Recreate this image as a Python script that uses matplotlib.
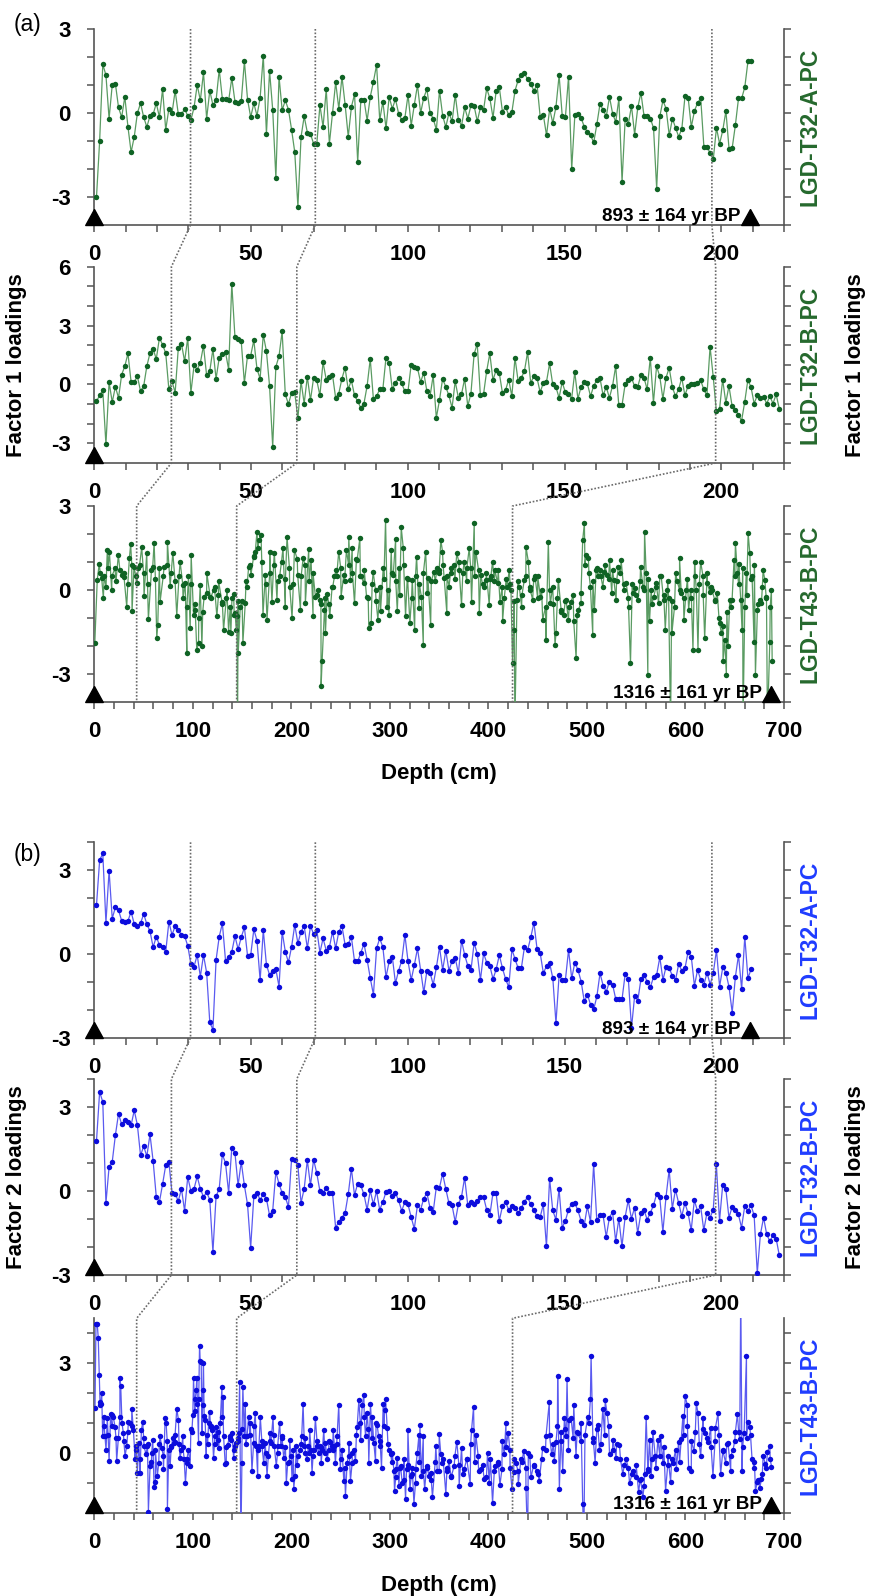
import numpy as np
import matplotlib
matplotlib.use("Agg")
import matplotlib.pyplot as plt
from matplotlib.lines import Line2D

plt.rcParams['font.family'] = ['Liberation Sans', 'DejaVu Sans']
plt.rcParams['font.weight'] = 'bold'
plt.rcParams['xtick.major.pad'] = 9
plt.rcParams['xtick.minor.pad'] = 9
plt.rcParams['ytick.major.pad'] = 12
plt.rcParams['ytick.minor.pad'] = 12
plt.rcParams['xtick.direction'] = 'out'
plt.rcParams['ytick.direction'] = 'out'

# ---- data: factor loadings vs depth (cm) ----
# LGD-T32-A-PC, factor 1 (regular ~1 cm sampling, 0.7-209.5 cm)
t32a_f1 = [-3.0, -1.0, 1.74, 1.35, -0.2, 1.0, 1.05, 0.2, -0.15, 0.58, -0.5, -1.4, -0.85, 0.0, 0.35,
           -0.15, -0.5, -0.1, -0.05, 0.35, -0.15, 0.85, -0.6, 0.15, 0.0, 0.8, -0.05, -0.05, 0.15, -0.1,
           -0.25, 0.2, 1.0, 0.45, 1.45, -0.2, 0.8, 0.28, 0.45, 1.55, 0.5, 0.5, 0.45, 1.25, 0.4, 0.35,
           0.42, 1.85, 0.48, -0.15, 0.35, -0.1, 0.55, 2.05, -0.75, 1.5, 0.1, -2.33, 1.3, 0.1, 0.45, 0.12,
           -0.6, -1.4, -3.35, -0.85, -0.12, -0.7, -0.75, -1.1, -1.1, 0.28, -0.5, 0.85, -1.1, 0.0, 1.1,
           0.15, 1.3, 0.3, -0.85, 0.22, 0.67, -1.75, 0.48, 0.48, -0.27, 0.58, 1.12, 1.72, -0.25, 0.4,
           -0.55, 0.58, 0.15, 0.5, -0.02, -0.25, -0.17, 0.65, -0.45, 0.3, 1.0, 0.0, 0.55, 0.85, 0.0,
           -0.2, -0.6, 0.8, -0.1, -0.5, 0.0, -0.3, 0.65, -0.25, -0.45, 0.2, -0.2, 0.28, 0.25, -0.3, 0.2,
           0.12, 0.88, 0.52, -0.17, 0.8, 0.92, 0.04, 0.22, -0.08, 0.04, 0.8, 1.18, 1.35, 1.42, 1.2, 1.03,
           0.8, 1.0, -0.15, -0.08, -0.8, 0.15, -0.36, 0.22, 1.35, -0.12, -0.15, 1.3, -2.0, -0.08, -0.02,
           -0.17, -0.5, -0.68, -0.8, -1.05, -0.4, 0.33, 0.1, -0.12, 0.58, -0.02, -0.32, 0.52, -2.45,
           -0.2, -0.38, 0.25, -0.77, 0.2, 0.72, -0.12, -0.12, -0.2, -0.53, -2.7, -0.12, 0.45, 0.15,
           -0.8, -0.2, -0.53, -0.85, -0.56, 0.6, 0.55, -0.5, 0.07, 0.36, 0.52, -1.2, -1.2, -1.44, -1.64,
           -0.53, -1.1, -0.62, 0.07, -1.28, -1.25, -0.44, 0.52, 0.52, 0.92, 1.84, 1.84]

# LGD-T32-B-PC, factor 1 (0.7-218.5 cm)
t32b_f1 = [-0.85, -0.56, -0.3, -3.05, 0.12, -0.9, -0.12, -0.68, 0.5, 0.93, 1.58, 0.12, 0.12, 0.42,
           -0.34, -0.08, 0.93, 1.6, 1.8, 1.3, 2.37, 2.03, 1.6, -0.25, 0.17, -0.42, 1.86, 2.08, 1.18,
           2.37, -0.42, 0.97, 0.76, 1.1, 1.98, 0.46, 0.68, 1.8, 0.29, 1.36, 1.53, 1.64, 0.76, 5.13, 2.42,
           2.32, 2.2, 0.08, 1.47, 1.47, 2.25, 0.8, 0.29, 2.54, 1.7, -0.08, -3.17, 0.9, 1.44, 2.7, -0.5,
           -1.0, -0.42, -0.4, -1.73, 0.17, -0.97, 0.39, -0.8, 0.34, 0.22, -0.56, 1.14, 0.25, 0.39, 0.49,
           -0.68, -0.46, 0.3, 0.85, -0.25, 0.22, -0.56, -0.85, -1.19, -0.97, -0.08, 1.3, -0.73, -0.6,
           -0.25, -0.25, 1.36, 1.1, -0.25, 0.08, 0.34, 0.05, -0.34, -0.34, 1.0, 0.9, 0.85, 0.12, 0.6,
           -0.34, -0.6, 0.46, -1.7, -0.8,
           0.29, -0.12, -0.56, -1.19, 0.17, -0.68, -0.5, 0.29, -1.1, -0.46, 1.53, 2.08, -0.56, -0.5,
           0.68, 1.58, 0.22, 0.73, 0.6, -0.42, -0.29, 0.25, -0.6, 1.36, 0.17, 0.34, 0.68, 1.64, 0.08,
           0.42, 0.34, -0.4, 0.08, 0.12, 1.07, 0.0, -0.12, -0.68, 0.12, -0.4, -0.5, -0.73, 0.63, -0.73,
           -0.12, 0.12, 0.05, -0.6, -0.08, 0.22, 0.34, -0.56, -0.12, -0.68, -0.08, 0.93, -1.07, -1.07,
           0.0, 0.25, 0.34, -0.08, -0.12, 0.46, 0.34, -0.25, 1.36, -0.93, 0.93, 0.42, -0.73, 0.34, 0.85,
           -0.12, -0.6, -0.25, 0.34, -0.56, -0.08, 0.0, 0.0, 0.08, 0.22, -0.25, -0.56, 1.92, 0.39, -1.36,
           -1.27, 0.25, -0.93, -0.08, -1.1, -1.3, -1.53, -1.86, -0.9, 0.22, -0.12, -0.97, -0.56, -0.68,
           -0.63, -0.97, -0.6, -0.97, -0.5, -1.24]

# LGD-T43-B-PC, factor 1 (depth, value) - prominent points
t43b_f1 = [(0.5, -1.9), (3, 0.36), (5, 0.93), (7.5, 0.42), (9.2, -0.3), (11.9, 0.12), (13.2, 1.43),
           (15.3, 1.37), (17.6, 0), (21, 0.77), (24.4, 1.25), (27.8, 0.54), (30.2, 0.45), (32.9, -0.6),
           (35.6, 1.13), (36.9, 1.64), (38.3, -0.77), (40.3, 0.83), (43, 0.24), (44.7, 0.77), (48.1, 1.52),
           (50.5, -0.21), (53.2, 1.31), (54.9, -1.05), (59.3, 0.83), (60.7, 1.69), (63.4, -1.73),
           (64.4, -1.25), (66.8, -0.42), (70.8, 0.83), (74.2, 1.73), (77, 0.14), (79.7, 1.33),
           (83.7, -0.93), (87.1, 1.01), (89.8, 0.18), (92.2, 0.24), (93.9, -2.26), (95.6, 0.48),
           (97.3, -1.37), (98.3, 1.25), (100.7, -0.89), (102.4, -0.71), (104, -2.14), (105.8, -1.9),
           (107.5, 0.18), (109.2, -2.02), (111.5, -0.24), (114.2, 0.6), (117.6, -0.24), (121, 0),
           (124.4, -0.95), (126.1, 0.33), (129.5, -0.42), (131.2, -1.43), (134.6, 0), (136.3, -1.49),
           (138.6, -1.55), (139.7, -0.3), (141.4, -0.14), (142.9, -0.83), (144.1, -1.43), (144.7, -0.95),
           (145.4, -4.8), (146.1, -2.26), (148.1, -0.6), (150.8, -1.9), (153.2, -0.48), (155, 0.12),
           (156.6, 0.81), (159, 0.54), (161.7, 1.19), (163.4, 1.37), (165.1, 2.08), (166.8, 1.79),
           (169.2, 1.96), (171.2, -0.89), (173.6, 0.54), (175.3, -1.07), (178, 1.37), (180.3, -0.42),
           (182.7, 1.33), (185.4, -0.36), (188.1, 0.48), (191.5, 1.49), (193.9, -0.6), (195.6, 1.9),
           (198.3, 0.12), (200.7, -1.01), (203.1, 1.43), (206.4, 0.54), (209.2, -0.71), (211.9, 1.13),
           (214.2, -0.48), (217.6, 1.45), (220, 1.07), (222, -0.93), (224.4, -0.24), (226.8, 0),
           (228.8, -0.36), (230.2, -3.43), (231.2, -2.56), (233.6, -0.71), (234.6, -1.55), (236.3, -0.14),
           (239, -0.95), (241.4, 0.12), (243.7, 0.48), (245.8, 0.71), (248.1, 1.37), (250.5, -0.24),
           (253.2, 0.54), (255.9, 1.43), (258.3, 1.9), (260, 0.36), (261.7, 1.49), (264.1, -0.48),
           (266.8, 1.07), (269.5, 1.85), (270.8, 0.48), (273.6, 0.24), (276.3, -0.24), (278.6, -1.37),
           (281, -1.19), (283, 0.65), (285.4, 0), (287.8, -1.07), (290.5, -0.77), (293.2, 0.77),
           (295.6, 2.5), (297.3, -0.6), (299, -0.89), (301.4, 1.43), (303.4, 0.54), (305.8, 1.81),
           (307.5, -0.77), (309.2, 0.77), (311.5, 2.24), (313.6, 1.49), (315.9, -0.95), (317.6, 0.42),
           (320.3, -1.19), (322.7, 0.36), (325.1, -1.43), (327.1, 1.19), (329.5, -0.65), (331.9, -0.24),
           (333.9, -1.96), (336.3, 1.37), (338.6, 0.42), (341.4, -1.25), (344.7, 0.65), (348.1, 0.77),
           (350, 0.71), (351.7, 1.79), (353.4, 1.37), (355.1, 0.42), (357.8, -0.83), (360.1, 0.12),
           (362.5, 0.6), (365.2, 0.89), (367.9, 1.31), (370.3, 0.71), (372.7, -0.54), (375.4, 1.01),
           (378.1, 0.77), (380.5, 1.49), (382.9, -0.42), (385.6, 2.4), (387.3, 1.37), (390.7, -0.81),
           (392.3, 0.54), (395.1, 0.12), (397.4, 0.36), (400.8, -0.54), (402.5, 0.48), (404.2, 1.01),
           (406.6, 0.71), (409.3, 0.24), (411.7, -0.42), (414.4, -1.13), (416.1, -0.3), (418.8, 0.12),
           (421.2, 0.71), (422.9, 0), (424.5, -2.62), (425.6, -1.43), (426.9, -4.8), (429, -0.36),
           (431.3, 0.12), (433.7, -0.6), (436.4, 0.36), (438.1, 1.55), (440.5, 1.01), (442.5, 0),
           (444.9, -0.36), (447.3, 0.48), (450, 0.5), (452.7, -0.24), (455.1, -1.07), (458.4, -1.79),
           (460.8, 1.73), (462.9, -0.48), (465.2, 0.12), (467.6, -1.96), (468.6, -1.55), (471, 0.36),
           (473.7, -0.71), (476.4, -0.89), (478.8, -0.36), (481.2, -1.07), (483.9, -0.42), (486.6, -1.13),
           (489, -2.44), (491.3, -0.71), (494, -0.48), (495.7, 1.79), (497.4, 2.38), (499.1, 1.25),
           (501.5, 1.13), (503.5, 0.12), (505.9, -1.61), (507.6, -0.71), (509.3, 0.71), (511, 0.48),
           (513.7, 0.71), (516.1, 0.12), (517.8, 0.65), (520.5, 0.54), (522.9, 1.07), (525.2, -0.12),
           (527.3, 0.36), (529.6, -0.36), (532, 0.83), (534.7, 1.07), (537.4, 0), (539.8, 0.24),
           (542.2, -0.6), (544.2, -2.62), (546.6, -0.12), (549, 0.06), (551.7, -0.36), (554.4, 0.83),
           (556.8, 0.12), (558.5, 2.08), (560.1, 0.6), (561.8, -3.04), (563.5, -1.13), (565.2, 0),
           (567.9, -0.24), (570.3, 0.24), (572.7, -0.48), (575.4, 0.48), (577.8, -0.36), (579.5, -1.43),
           (581.5, 0), (582.9, -0.3), (584.9, -4.8), (586.2, -1.55), (588.9, -0.6), (591.7, 0.3),
           (594, 1.13), (595.7, -0.12), (598.4, -1.07), (600.8, 0), (603.2, -0.71), (605.2, 0),
           (607.6, -2.14), (609.3, 1.01), (611, 0), (612.7, -2.14), (615.4, 1.01), (617.8, 0.48),
           (619.5, -1.73), (622.2, 0.24), (624.5, -0.06), (626.9, 0), (629.6, -0.36), (632.3, -0.12),
           (634.7, -1.19), (636.4, -1.55), (638.1, -2.56), (639.8, -1.79), (641.5, -3.04), (643.2, -2.02),
           (644.9, -0.36), (647.3, -0.36), (649.3, 1.07), (650.7, 1.67), (652.7, 0.6), (654, 0.93),
           (656.1, -0.36), (657.4, -1.43), (658.4, -4.8), (660.2, -0.6), (661.9, 0.6), (663.6, 2.02),
           (665.3, 1.31), (667.6, 0.48), (669.6, -1.88), (671, -3.04), (673, -0.71), (675.4, -0.36),
           (677.1, -0.48), (678.8, 0.71), (680.5, 0.36), (682.2, -0.24), (683.2, -4.8), (685.6, -1.85),
           (687.2, 0), (688, -2.56)]
# LGD-T43-B-PC, factor 1 - remaining dense-cloud points, every 4 cm from 6 cm
t43b_f1_cloud = [0.6, 0.5, 0.8, 0.5, 0.3, 0.7, 0.6, 0.2, 0.9,
                 0.5, 0.9, 0.6, 0.2, 0.7, 0.4, 0.8, 0.5, 0.9, 0.6, 0.3, 0.5,
                 -0.3, -0.6, 0.2, -0.5, -1.0,
                 -0.8, -0.1, -0.3, 0.1, -0.2, -0.5, -0.3, -0.6, -0.9, -0.4,
                 -0.4, 0.3, 0.9, 1.2, 1.5, 1.0, 0.2,
                 0.6, 0.9, 0.3, 1.0, 0.4, 0.8, 0.2, 1.1, 0.5, 0.9, 0.3, 0.6, -0.2,
                 -0.5, -0.3, -0.5, 0.1,
                 0.5, 0.8, 0.3, 0.9, 0.6, 1.1, 0.5, 0.7,
                 -0.3, 0.2, -0.4, 0.1, 0.4, 0.0,
                 0.6, 0.3, -0.2, 0.9, 0.4, -0.3, 0.5, 0.2, 0.6, -0.1, 0.3,
                 0.3, 0.6, 0.9, 0.5, 0.8, 0.4, 1.0, 0.6, 0.3, 0.8, 0.5, 0.7, 0.2, 0.6, 0.4, 0.3, 0.7, 0.1, 0.4,
                 0.2, -0.4, 0.3, -0.2, 0.5, 0.1, 0.4, -0.3, 0.0, -0.6,
                 0.0, -0.5, -0.3, -0.8, -0.4, -0.6, -0.2, -0.9, -0.1,
                 0.9, 0.6, 0.3, 0.8, 0.5, 0.9, 0.4, 0.7, 0.3, 0.6, 0.2,
                 -0.3, 0.2, -0.2, 0.3, 0.0, 0.4, -0.5, 0.1, 0.5, -0.2, 0.3, -0.4, 0.6, 0.0, -0.3,
                 0.4, -0.3, 0.5, 0.2, -0.2, 0.6, 0.1, -0.4,
                 -1.0, -1.3, -0.8, -0.6,
                 0.5, 0.2, 0.8, -0.2, 0.4, 0.9, -0.5, 0.1, -0.3, -0.6]

# LGD-T32-A-PC, factor 2 (0.7-209.5 cm)
t32a_f2 = [1.75, 3.36, 3.6, 1.12, 2.98, 1.27, 1.67, 1.57, 1.19, 1.15, 1.19, 1.51, 1.07, 1.0, 1.1, 1.43,
           1.07, 0.82, 0.24, 0.62, 0.32, 0.26, 0.08, 1.15, 0.68, 1.0, 0.86, 0.68, 0.64, 0.29, -0.36,
           -0.45, -0.04, -0.81, -0.04, -0.67, -2.45, -2.71, -0.21, 0.62, 1.1, -0.24, -0.12, 0.08, 0.64,
           0.17, 0.6, 0.95, -0.07, -0.04, 0.88, 0.48, -0.95, 0.86, -0.39, -0.75, -0.6, -0.55, -1.17, 0.8,
           0.08, -0.3, 0.26, 1.04, 0.38, 0.8, 1.0, 0.2, 1.0, 0.71, 0.86, 0.05, 0.56, 0.12, 0.24, 0.8, 0.2,
           0.8, 1.0, 0.32, 0.36, 0.6, -0.27, -0.27, 0.05, 0.36, -0.21, -0.87, -1.46, 0.2, 0.56, 0.24,
           -0.83, -0.27, -0.1, -1.05, -0.6, -0.24, 0.68, -0.27, -0.93, -0.4, 0.2, -0.6, -1.38, -0.6,
           -0.67,
           -1.1, -0.48, 0.24, -0.57, 0.12, -0.6, -0.24, -0.15, -0.69, 0.48, -0.04, -0.43, -0.57, 0.4, 0.0,
           -0.93, 0.02, -0.31, -0.43, -0.9, -0.55, -0.04, -0.51, -0.9, -1.19, 0.17, -0.19, -0.51, -0.51,
           0.26, 0.14, 0.6, 1.12, 0.17, 0.02, -0.69, -0.43, -0.33, -0.87, -2.48, -0.75, -0.95, -0.93,
           0.14, -0.87, -0.31, -0.57, -0.99, -1.7, -1.46, -1.82, -1.98, -1.52, -0.69, -1.14, -1.35,
           -0.99, -1.1, -1.62, -1.62, -1.62, -0.71, -0.9, -2.65, -1.5, -1.67, -0.9, -0.75, -0.99, -1.19,
           -0.83, -0.75, -0.12, -0.93, -0.45, -0.51, -0.79, -0.93, -0.36, -0.6, -0.51, 0.08, -0.1, -1.14,
           -0.57, -0.93, -1.1, -0.67, -1.1, -0.67, 0.14, -1.17, -0.48, -0.67, -1.19, -2.1, -0.83, -0.04,
           -1.26, 0.62, -0.87, -0.55]

# LGD-T32-B-PC, factor 2 (0.7-218.5 cm)
t32b_f2 = [1.79, 3.54, 3.18, -0.43, 0.86, 1.04, 1.99, 2.76, 2.38, 2.52, 2.46, 2.35, 2.88, 2.35, 1.27,
           1.6, 1.24, 2.02, 1.07, -0.21, -0.39, 0.24, 0.92, 1.04, -0.07, -0.1, -0.36, 0.08, -0.71, 0.5,
           0.0, 0.08, 0.52, 0.08, -0.21, -0.04, -0.31, -2.18, -0.19, 0.08, 1.31, 1.0, -0.07, 1.55, 1.36,
           0.2, 1.04, 0.2, -0.48, -2.02, -0.19, -0.07, -0.31, -0.12, -0.27, -0.87, -0.71, 0.68, 0.26,
           -0.07, -0.21, -0.57, 1.15, 1.12, 0.92, -0.43, 0.08, 1.1, 0.2, 1.12, 0.64, 0.0, -0.07, 0.12,
           -0.07, -0.07, -1.31, -1.1, -0.95, -0.79, -0.12, 0.8, -0.15, 0.26, 0.2, -0.12, -0.67, 0.02,
           -0.48, 0.0, -0.67, -0.39, -0.04, 0.0, -0.19, -0.07, -0.33, -0.71, -0.39, -0.48, -0.93, -1.35,
           -0.51, -0.67, -0.27, -0.07, -0.6,
           -0.75, 0.14, 0.12, 0.62, 0.08, -0.43, -0.51, -1.1, -0.48, -0.21, 0.48, -0.51, -0.39, -0.45,
           -0.36, -0.21, -0.21, -0.67, -0.87, -0.07, -0.07, -1.07, -0.55, -0.39, -0.67, -0.55, -0.6,
           -0.79, -0.6, -0.39, -0.21, -0.48, -0.69, -0.9, -0.93, -0.48, -1.98, 0.44, -0.69, -1.02, 0.08,
           -1.31, -1.07, -0.67, -0.45, -0.43, -0.69, -1.07, -1.23, -0.55, -1.1, 0.95, -1.05, -0.87,
           -0.87, -1.64, -0.95, -0.75, -1.79, -0.99, -1.98, -0.93, -0.33, -0.99, -0.6, -1.5, -0.79,
           -0.67, -1.02, -0.79, -0.51, -0.12, -0.21, -1.46, -0.21, 0.76, -0.63, 0.05, -0.43, -0.9, -0.43,
           -0.79, -1.4, -0.33, -0.71, -0.55, -1.4, -0.79, -0.95, -0.67, 0.95, -1.07, 0.2, 0.08, -0.95,
           -0.57, -0.67, -0.83, -1.31, -0.55, -0.71, -0.51, -0.87, -2.93, -1.55, -0.95, -1.55, -1.79,
           -1.58, -1.7, -2.3]

# LGD-T43-B-PC, factor 2 (depth, value) - prominent points
t43b_f2 = [(0.7, 1.5), (1.7, 4.3), (3, 4.3), (4, 3.85), (5, 2.6), (5.8, 1.7), (6.8, 1.65), (7.5, 2.0),
           (8.5, 0.55), (9.8, 1.2), (10.8, 0.55), (11.9, 0.1), (13.2, 1.15), (15, -0.27), (16.6, 1.3),
           (18, 1.26), (19.3, 1.2), (21, 0.88), (22.7, -0.27), (24.4, 0.5), (26, 2.5), (26.8, 2.25),
           (28.1, 1.0), (29.5, 0.66), (31.2, -0.1), (32.9, 0.22), (34.6, 1.04), (36.3, 1.0), (38, 1.48),
           (39.7, 0.77), (41.4, -0.22), (42.4, 0.22), (43.7, -0.66), (45.1, 0.33), (46.4, -0.66),
           (47.8, 0.77), (49.2, 1.04), (50.5, 0.22), (52.5, -0.05), (53.9, 0.22), (54.9, -1.96),
           (56.6, -0.44), (58.3, 0), (59.3, 0.44), (60.7, -1.15), (62, -0.99), (64, -0.77), (65.4, -0.33),
           (66.8, 0.55), (68.5, 0.16), (70.2, -0.55), (71.9, 1.15), (72.9, 0.99), (74.2, -1.87),
           (75.6, 0.1), (77, -0.44), (78.3, 0.22), (79.7, 0.5), (81, 0.33), (82, 0.38), (83.7, 1.48),
           (85.4, 1.1), (87.1, -0.16), (88.5, 0.1), (89.8, 0.55), (91.2, -0.22), (92.5, -1.0),
           (93.9, -0.33), (95.6, 0.1), (97.3, -0.44), (99, 0.7), (100, 1.26), (100.7, 2.5), (102.4, 1.8),
           (103.4, 2.09), (104, 2.5), (104.7, 1.65), (105.8, 0.33), (106.8, 3.57), (107.5, 3.08),
           (108.5, 3.05), (109.2, 0.66), (110.2, 2.09), (110.8, 3.0), (111.5, 1.23), (112.5, 1.1),
           (113.6, -0.1), (115, 0.3), (116, 0.99), (117, 1.37), (118.3, 0.88), (119.7, 0.77),
           (121, -0.16), (122.4, 0.55), (123.7, 0.88), (125.1, 0.44), (126.1, 0.16), (127.8, 1.0),
           (129.5, 2.2), (130.5, 1.87), (131.2, 0.55), (132.9, -0.38), (133.9, -0.33), (135.3, 0.27),
           (137.3, 0.55), (138.6, 0.44), (139.7, 0.66), (141.4, -0.16), (143, 0.22), (144.1, 0.33),
           (145.4, 0.5), (146.4, 0.66), (147.5, 2.36), (148.8, -3.0), (149.8, -0.33), (150.8, 2.2),
           (152.2, 0.55), (153.2, 1.65), (155, 0.55), (156.6, 1.2), (158.3, 1.0), (160, -0.6),
           (161.7, 0.33), (163.4, 1.32), (164.4, 0.22), (165.8, -0.77), (167.1, 0.22), (168.5, 1.2),
           (170.2, 0.22), (171.9, -0.33), (173.6, 0.33), (175.3, -0.77), (176.6, -0.11), (178, 0.66),
           (179.3, 0.33), (181.4, 1.2), (182.7, 0.22), (184.7, -0.44), (186.1, 0.22), (188.1, 1.0),
           (189.5, 0.22), (190.5, 0.55), (192.2, -0.16), (194.9, -1.0), (196.3, -0.33), (198.3, 0.44),
           (199.7, -0.11), (200.7, -0.88), (202.4, -1.2), (203.7, -0.77), (205.1, 0.22), (206.8, -0.11),
           (209.2, 0.1), (210.5, 0.55), (211.9, 1.65), (213.2, 0.22), (214.2, 0), (215.9, -0.22),
           (217.3, 0.22), (218.6, 0.77), (220, 0.1), (221, -0.66), (222.7, 0.1), (224.4, 1.15),
           (226.1, 0.22), (227.8, 0), (228.8, 0.22), (230.2, -0.33), (231.5, 0.1), (232.9, 0.77),
           (234.6, 0.33), (236.3, -0.22), (238, 0.1), (239.7, 0.38), (241, 0.22), (242.4, 0.77),
           (243.7, 0.22), (244.7, -0.33), (246.4, 0.55), (248.1, 1.6), (249.8, -0.55), (251.5, 0.1),
           (253.2, -0.93), (254.9, -1.43), (256.6, -0.33), (258.3, 0.33), (260, -0.93), (261.7, -0.33),
           (263.4, 0.1), (265.1, -0.27), (266.8, 0.88), (268.5, 1.76), (270.2, 0.44), (271.9, 1.6),
           (273.6, 1.92), (275.3, 0.55), (277, 1.32), (278.6, -0.33), (280.3, 1.65), (282, 1.2),
           (283.7, 0.33), (285.4, -0.27), (287.1, 0.93), (288.5, 0.55), (289.8, 0.22), (291.5, -0.5),
           (293.2, 1.65), (294.6, 1.43), (295.6, 1.81), (297.3, 0.82), (299, 0.1), (300.7, -0.05),
           (302.4, 0), (304.1, -0.6), (304.7, -1.26), (306.1, -0.55), (307.5, -0.16), (309.2, -1.1),
           (310.8, -0.44), (312.5, -1.0), (314.2, -0.22), (315.9, -1.54), (316.9, -0.55), (318.3, 0.77),
           (320.3, -1.2), (321.7, -0.77), (322.7, -0.5), (324.4, -1.7), (326.1, -0.55), (327.8, 0),
           (329.5, 0.6), (330.5, 0.93), (331.9, -0.77), (333.9, 0.55), (335.3, -1.2), (337.3, -0.44),
           (339.7, -0.77), (341.5, -0.66), (343.2, -1.48), (346.6, 0.22), (348.1, -0.6), (350, 0.64),
           (351.7, -0.05), (353.4, -0.33), (356.8, -1.37), (358.4, -0.6), (360.1, -0.27), (362.5, -0.77),
           (365.2, -0.44), (367.9, 0.38), (370.3, -1.1), (372.7, 0.16), (375.4, -0.55), (378.1, -0.22),
           (381.5, -1.04), (382.9, 0.77), (384.9, 1.52), (387.3, 0.6), (389.6, -0.11), (392.3, -0.55),
           (395.7, -0.88), (399.1, 0), (400.8, -1.0), (404.2, -1.67), (406.9, -0.44), (409.3, -0.38),
           (411.7, -1.08), (413.7, -0.55), (416.1, -0.05), (417.8, 1.0), (420.1, 0.68), (421.8, 0.1),
           (423.9, -1.2), (425.6, -0.64), (427.9, -0.33), (430.3, -1.04), (433, -0.22), (435.7, 0.05),
           (438.1, -1.18), (439.8, -3.0), (440.5, 0), (443.2, -0.82), (446.6, -0.44), (449.3, -0.6),
           (451.7, -0.93), (455.1, 0.16), (458.4, 0.55), (461.8, 1.7), (464.2, -0.05), (466.9, -0.27),
           (468.6, 0.38), (470.3, 2.58), (472, -1.2), (473.7, 0.71), (475.4, -0.6), (477.1, 1.15),
           (478.8, 0.55), (479.8, 2.47), (481.2, 0.1), (483.9, 1.15), (486.6, 1.6), (488.9, -0.1),
           (490.7, 0.66), (494, 1.0), (495.7, -1.7), (496.8, -3.0), (500.8, 1.2), (503.5, 1.81),
           (504.2, 3.24), (506.6, 0.38), (508.3, -0.33), (511, 0.93), (512.7, 0.1), (516.1, 1.48),
           (518.5, 1.76), (520.5, 1.32), (522.9, -0.05), (526.2, 0.44), (529.6, -0.16), (533, 0.27),
           (536.4, -0.71), (539.8, -0.22), (543.2, -1.0), (546.6, -0.6), (550, -0.82), (552.4, -1.32),
           (554.4, -0.88), (556.8, -1.48), (558.5, -0.71), (560.1, 1.2), (561.8, -0.55), (563.5, 0.44),
           (565.2, -0.77), (566.9, 0.71), (569.3, -0.11), (572, 0.44), (574.7, 0.57), (577.1, -0.33),
           (579.8, -1.26), (582.2, -0.11), (584.9, -0.97), (587.3, -0.33), (590.7, -0.55), (593.1, 0.38),
           (595.7, 0.46), (597.4, 1.23), (599.8, 1.89), (601.8, 1.6), (603.2, -0.5), (605.9, -0.6),
           (608.6, 0.05), (611, 1.67), (612.7, 1.32), (615.4, -0.11), (617.8, 1.15), (620.1, 0.66),
           (622.9, 0.38), (625.6, 0.82), (627.9, -0.77), (630.3, 0.82), (633, 1.32), (635.7, -0.71),
           (638.1, 0.05), (640.8, -0.33), (643.2, 0.33), (645.9, -0.6), (648.3, 0.1), (650.7, 0.71),
           (652.7, 1.3), (655.1, 0.46), (656.1, 5.5), (657.4, -0.6), (659.5, 0.66), (661.9, 3.24),
           (663.6, 1.04), (665.3, 0.88), (667.6, -0.22), (669.6, -0.5), (671, -1.26), (673, -0.97),
           (675.4, -1.19), (677.1, -0.88), (678.8, -0.11), (681.2, -0.38), (683.2, 0.02), (685.6, 0.24),
           (687.3, -0.46)]
# LGD-T43-B-PC, factor 2 - remaining dense-cloud points, every 4 cm from 6 cm
t43b_f2_cloud = [1.6, 0.9, 0.6, 0.9, 0.5, 1.2, 0.4, 0.7, 0.9,
                 0.1, -0.2, 0.5, 0.3, -0.3, 0.1, 0.3, -0.1, 0.4, 0.2, 0.6, 0.3,
                 0.2, -0.2, 0.8, 1.4, 1.8,
                 1.6, 0.6, 0.9, 0.3, 0.7, 1.2, 0.2, 0.5, 0.1, 0.4,
                 0.8, 0.3, 0.6, 0.9, 0.1, 0.4, 0.0,
                 0.4, 0.6, 0.0, 0.5, 0.2, -0.3, 0.1, -0.4, 0.3, 0.5, 0.0, -0.1, 0.4,
                 0.2, 0.0, 0.4, 0.1,
                 0.3, -0.2, -0.5, -0.1, 0.0, 0.6, 1.0, 1.2,
                 0.8, 0.5, 1.0, 0.4, 0.9, 0.3,
                 -0.3, -0.8, -0.5, -0.9, -0.4, -0.7, -1.0, -0.3, -0.6, -0.5, -0.9,
                 -0.3, -0.6, -0.2, -0.5, -0.8, -0.1, -0.4, -0.7, -0.2, 0.3, -0.3, -0.6, -0.4, -0.8, -0.2,
                 -0.6, -0.3, 0.4, 0.2,
                 -0.5, -0.2, -0.6, -0.3, -0.5, -0.1, -0.4, -0.7, -0.2, 0.1,
                 0.6, 0.3, 0.9, 0.4, 0.8, 1.1, 0.5, 0.7, 0.4,
                 0.6, 1.0, 0.5, 0.8, 0.3, 0.6, 0.9, 0.1, 0.3, -0.2, -0.4,
                 -0.5, -0.7, -0.4, -0.9, -1.1, -0.6, -0.2, -0.5, -0.1, 0.2, -0.4, -0.2, 0.1, -0.3, 0.6,
                 0.9, 0.4, 0.7, 0.3, 0.8, 0.5, 0.2, 0.4,
                 0.6, 0.1, 0.3, -0.1,
                 0.4, 0.7, 0.2, 0.5, 0.6, -0.3, -0.9, -0.7, -0.5, -0.2]

core_names = ['LGD-T32-A-PC', 'LGD-T32-B-PC', 'LGD-T43-B-PC']
depth_span_t32a = (0.7, 209.5)
depth_span_t32b = (0.7, 218.5)
cloud_start, cloud_step = 6, 4
# tie points (cm) between cores: T32-A -> T32-B -> T43-B
ties = [(30.7, 24.6, 43.0), (70.5, 64.6, 144.5), (197.0, 198.2, 424.5)]
dates = ['893 ± 164 yr BP', '1316 ± 161 yr BP']
date_depth = [209.0, 687.0]

# ---- figure ----
W, H = 870, 1596
fig = plt.figure(figsize=(W / 100, H / 100), dpi=100)

GREEN_LINE, GREEN_DOT, GREEN_TXT = '#5a9b62', '#0f6324', '#25692d'
BLUE_LINE, BLUE_DOT, BLUE_TXT = '#5a5af0', '#0c0cdc', '#1f3cff'
SPINE = '#555555'

def add_ax(top_px, bot_px):
    return fig.add_axes([94.3 / W, 1 - bot_px / H, (784 - 94.3) / W, (bot_px - top_px) / H])

tri = [(0, 1), (-0.55, 0), (0.55, 0), (0, 1)]

def style(ax, xlim, ylim, ylabels, xmajor, xminor, xlast):
    ax.set_xlim(*xlim)
    ax.set_ylim(*ylim)
    ax.spines['top'].set_visible(False)
    for s in ('left', 'right', 'bottom'):
        ax.spines[s].set_color(SPINE)
        ax.spines[s].set_linewidth(1.2)
    ax.set_yticks(ylabels)
    ax.set_yticklabels([str(v) for v in ylabels])
    ax.set_yticks(np.arange(np.ceil(ylim[0]), ylim[1] + 0.01, 1), minor=True)
    ax.set_xticks(np.arange(0, xlast + 1, xmajor))
    ax.set_xticks(np.arange(0, xlim[1] + 0.1, xminor), minor=True)
    ax.tick_params(axis='both', which='both', direction='out', length=5, width=1.1,
                   color=SPINE, labelsize=16)
    ax.tick_params(axis='y', which='both', right=True, labelright=False)
    ax.plot([0], [ylim[0]], marker=tri, ms=23, color='black', clip_on=False, zorder=6, ls='none')

def series(ax, x, y, lc, dc):
    ax.plot(x, y, '-', color=lc, lw=0.9, zorder=3)
    ax.plot(x, y, 'o', color=dc, ms=3.9, mew=0, zorder=4)

def date_label(ax, xd, text, ybottom):
    ax.plot([xd], [ybottom], marker=tri, ms=23, color='black', clip_on=False, zorder=6, ls='none')
    ax.annotate(text, xy=(xd, 0), xycoords=('data', 'axes fraction'), xytext=(-9, 4),
                textcoords='offset pixels', ha='right', va='baseline', fontsize=13.6,
                fontweight='bold', zorder=7)

def tie_lines(axes, xlist):
    pts = []
    for ax, xv in zip(axes, xlist):
        y0, y1 = ax.get_ylim()
        pts.append(ax.transData.transform((xv, y1)))
        pts.append(ax.transData.transform((xv, y0)))
    pts = fig.transFigure.inverted().transform(np.array(pts))
    fig.add_artist(Line2D(pts[:, 0], pts[:, 1], transform=fig.transFigure, color='#6a6a6a',
                          lw=1.2, ls=(0, (1, 1.1)), zorder=1))

def merged(points, cloud):
    cx = cloud_start + cloud_step * np.arange(len(cloud))
    allp = sorted(list(points) + list(zip(cx, cloud)))
    return [p[0] for p in allp], [p[1] for p in allp]

groups = [
    dict(tops=[(29, 225), (266.7, 463), (506, 701.7)],
         ylims=[(-4, 3), (-4, 6), (-4, 3)], ylabs=[[-3, 0, 3], [-3, 0, 3, 6], [-3, 0, 3]],
         data=[t32a_f1, t32b_f1, (t43b_f1, t43b_f1_cloud)], lc=GREEN_LINE, dc=GREEN_DOT,
         tc=GREEN_TXT, ylabel='Factor 1 loadings', tag='(a)', tag_y=25, xlab_y=773),
    dict(tops=[(842.3, 1037.7), (1079, 1275), (1318.3, 1512.7)],
         ylims=[(-3, 4), (-3, 4), (-2, 4.5)], ylabs=[[-3, 0, 3], [-3, 0, 3], [0, 3]],
         data=[t32a_f2, t32b_f2, (t43b_f2, t43b_f2_cloud)], lc=BLUE_LINE, dc=BLUE_DOT,
         tc=BLUE_TXT, ylabel='Factor 2 loadings', tag='(b)', tag_y=855, xlab_y=1585),
]

for g in groups:
    axes = []
    for i, (tb, yl, ylab, d) in enumerate(zip(g['tops'], g['ylims'], g['ylabs'], g['data'])):
        ax = add_ax(*tb)
        if i == 0:
            x = np.linspace(depth_span_t32a[0], depth_span_t32a[1], len(d))
            y = d
            style(ax, (0, 220), yl, ylab, 50, 10, 200)
        elif i == 1:
            x = np.linspace(depth_span_t32b[0], depth_span_t32b[1], len(d))
            y = d
            style(ax, (0, 220), yl, ylab, 50, 10, 200)
        else:
            x, y = merged(d[0], d[1])
            style(ax, (0, 700), yl, ylab, 100, 20, 700)
        series(ax, x, y, g['lc'], g['dc'])
        if i == 0:
            date_label(ax, date_depth[0], dates[0], yl[0])
        if i == 2:
            date_label(ax, date_depth[1], dates[1], yl[0])
        fig.text(810 / W, 1 - (tb[0] + tb[1]) / 2 / H, core_names[i], rotation=90, ha='center',
                 va='center', color=g['tc'], fontsize=16.5, fontweight='bold')
        axes.append(ax)
    for t in ties:
        tie_lines(axes, t)
    mid = 1 - (g['tops'][1][0] + g['tops'][1][1]) / 2 / H
    fig.text(17 / W, mid, g['ylabel'], rotation=90, ha='center', va='center', fontsize=16,
             fontweight='bold')
    fig.text(856 / W, mid, g['ylabel'], rotation=90, ha='center', va='center', fontsize=16,
             fontweight='bold')
    fig.text(28 / W, 1 - g['tag_y'] / H, g['tag'], ha='center', va='center', fontsize=16.5,
             fontweight='normal')
    fig.text(439 / W, 1 - g['xlab_y'] / H, 'Depth (cm)', ha='center', va='center', fontsize=16,
             fontweight='bold')

fig.savefig('out.png', dpi=100)
